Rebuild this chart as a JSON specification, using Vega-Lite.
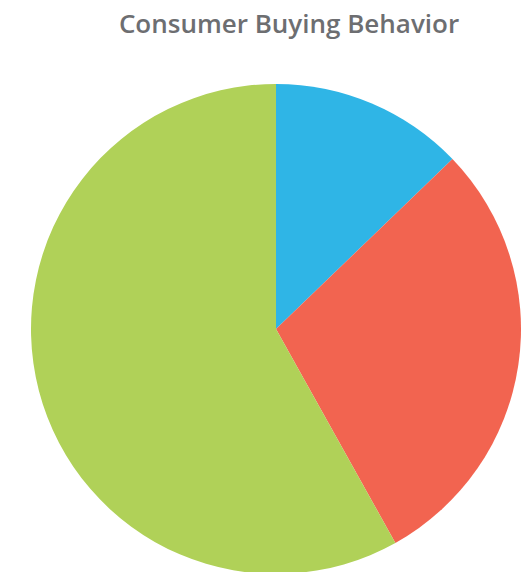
{
  "$schema": "https://vega.github.io/schema/vega-lite/v6.json",
  "autosize": "none",
  "width": 490,
  "height": 490,
  "padding": {"top": 84, "left": 31, "right": 0, "bottom": 0},
  "title": {
    "text": "Consumer Buying Behavior",
    "font": "Open Sans",
    "fontSize": 26,
    "fontWeight": 600,
    "color": "#6d6e71",
    "anchor": "middle",
    "offset": 46,
    "dx": 13
  },
  "data": {
    "values": [
      {"category": "A", "value": 12.8, "order": 1},
      {"category": "B", "value": 29.1, "order": 2},
      {"category": "C", "value": 58.1, "order": 3}
    ]
  },
  "mark": {"type": "arc", "outerRadius": 245},
  "encoding": {
    "theta": {"field": "value", "type": "quantitative", "stack": true},
    "order": {"field": "order", "type": "quantitative"},
    "color": {
      "field": "category",
      "type": "nominal",
      "scale": {"domain": ["A", "B", "C"], "range": ["#2fb5e6", "#f26450", "#b0d158"]},
      "legend": null
    }
  },
  "config": {"view": {"stroke": null}}
}
